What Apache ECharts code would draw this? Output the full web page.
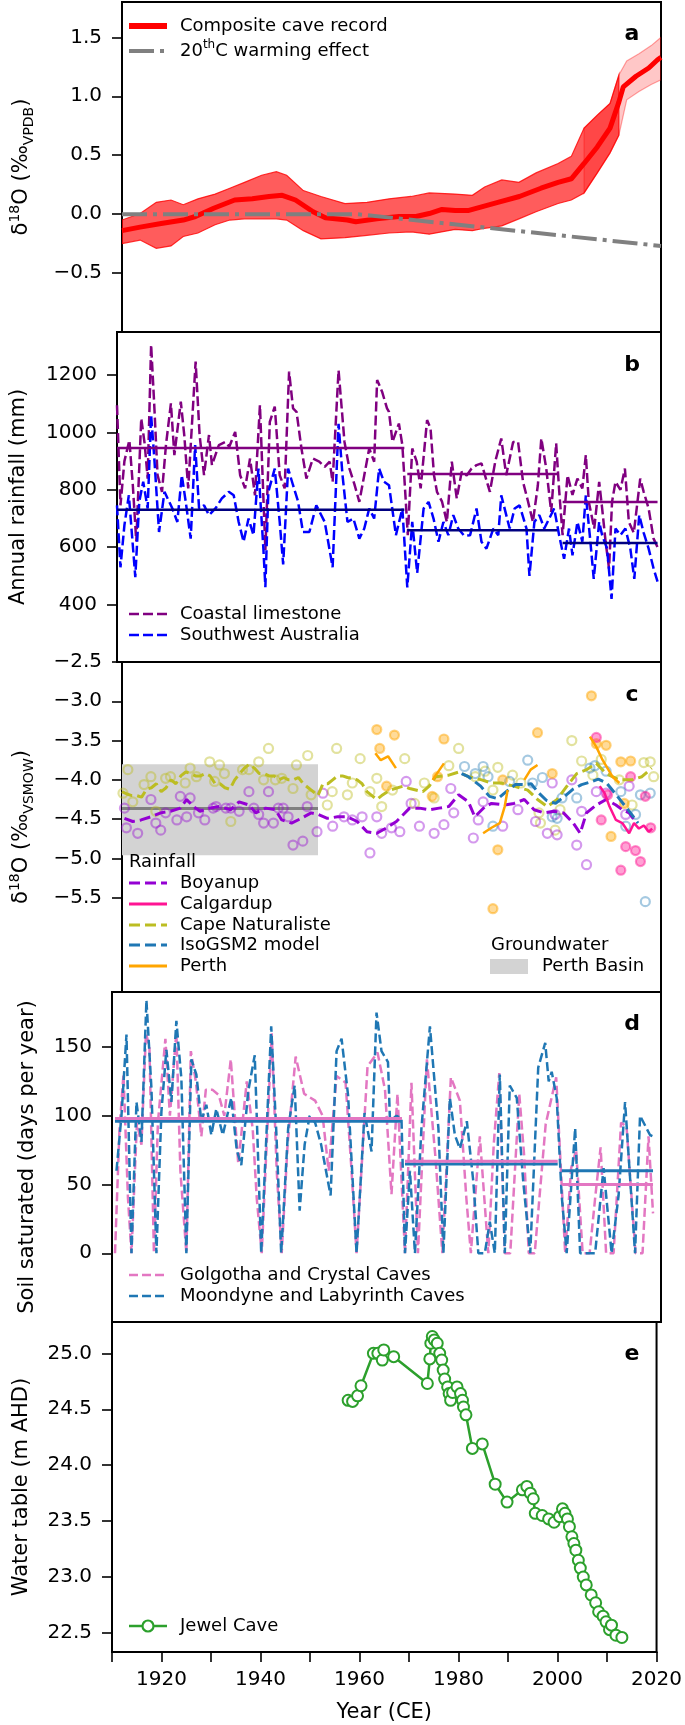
<!DOCTYPE html>
<html><head><meta charset="utf-8">
<script src="https://cdn.jsdelivr.net/npm/echarts@6/dist/echarts.min.js"></script>
<style>html,body{margin:0;padding:0;background:#fff}#c{width:685px;height:1725px}</style>
</head><body><div id="c"></div>
<script>
// ---------- Panel a: composite cave record ----------
const aYears = [1910,1913.7,1918,1922.5,1925,1928.7,1933,1936.6,1940,1942.7,1945.4,1949,1951.5,1956,1957.7,1962,1966.5,1970,1972.7,1975.3,1978,1980.6,1983.2,1986.7,1991.1,1995.5,1999,2001.7,2004.3,2007,2009.6,2011.4,2012.3,2014.9,2017.5,2019.3,2020];
const aMean = [-0.14,-0.11,-0.08,-0.05,-0.02,0.05,0.12,0.13,0.15,0.16,0.12,0.02,-0.03,-0.05,-0.065,-0.04,-0.02,-0.02,0.005,0.04,0.03,0.03,0.06,0.10,0.15,0.22,0.27,0.30,0.43,0.57,0.73,0.95,1.08,1.17,1.24,1.31,1.33];
const bandYears1 = [1910,1913.7,1917,1920,1922.5,1925.5,1929,1932,1935,1938.5,1941.5,1943.6,1947,1950.6,1955.5,1960,1964.5,1969,1972.7,1978,1981.5,1984,1987.5,1991,1994.5,1999,2001.7,2004.3,2007,2009.6,2011.4];
const bandHigh1 = [-0.05,0.005,0.10,0.12,0.08,0.13,0.17,0.22,0.27,0.33,0.36,0.33,0.20,0.15,0.09,0.10,0.13,0.15,0.18,0.17,0.16,0.23,0.29,0.27,0.35,0.43,0.49,0.73,0.84,0.94,1.18];
const bandLow1 = [-0.25,-0.22,-0.29,-0.27,-0.19,-0.16,-0.09,-0.05,-0.04,-0.04,-0.04,-0.05,-0.14,-0.21,-0.20,-0.18,-0.16,-0.15,-0.17,-0.13,-0.14,-0.12,-0.10,-0.04,0.02,0.09,0.12,0.18,0.35,0.52,0.67];
const bandYears2 = [2004.3,2007,2009.6,2011.4,2013,2015.5,2018,2020];
const bandHigh2 = [0.73,0.84,0.94,1.18,1.30,1.36,1.43,1.50];
const bandLow2 = [0.18,0.35,0.52,0.67,0.97,1.04,1.10,1.14];
const warmYears = [1910,1958,2020];
const warmVals = [0,0,-0.27];

// ---------- Panel b: annual rainfall ----------
const coastalYears = [1910.0,1910.7,1911.5,1912.5,1913.2,1913.9,1914.9,1915.6,1916.2,1916.9,1917.5,1918.2,1919.1,1919.9,1920.9,1921.6,1922.9,1923.6,1924.4,1925.9,1926.7,1927.6,1928.6,1929.2,1930.6,1931.9,1932.7,1933.9,1934.9,1935.9,1936.9,1937.9,1938.9,1940.0,1940.9,1941.9,1942.9,1943.9,1944.8,1945.6,1946.3,1947.3,1948.3,1949.6,1950.9,1952.0,1953.0,1953.6,1954.8,1956.0,1957.0,1958.0,1959.0,1960.0,1961.0,1962.0,1962.6,1963.6,1964.6,1965.0,1965.7,1967.0,1967.7,1968.4,1968.8,1969.7,1970.6,1971.4,1972.7,1973.4,1974.1,1974.7,1975.7,1976.7,1977.7,1978.7,1979.7,1980.7,1981.7,1982.7,1983.7,1984.4,1985.4,1986.5,1987.7,1988.7,1990.1,1991.1,1992.1,1993.1,1994.1,1995.1,1995.8,1996.8,1997.8,1998.8,1999.4,2000.1,2001.1,2002.1,2003.1,2004.1,2004.8,2005.4,2006.5,2007.5,2008.1,2008.8,2009.5,2010.1,2010.8,2011.8,2012.7,2013.5,2014.5,2015.8,2016.5,2017.5,2018.5,2019.3];
const coastal = [1095,746,900,973,816,620,1049,960,839,1305,1107,851,793,956,1101,921,1107,991,805,1247,991,851,991,886,956,967,950,1002,851,805,909,781,1095,590,1037,1090,851,805,1212,1084,1072,944,839,909,898,880,898,828,1217,967,874,820,758,851,944,898,1183,1142,1084,1072,967,1031,956,758,642,944,898,805,1043,1014,851,793,760,688,898,770,863,850,874,886,892,851,793,900,979,851,967,967,828,760,688,816,979,874,723,962,800,642,851,782,839,805,921,758,665,828,735,619,525,758,828,800,874,688,650,839,793,735,630,600];
const swaYears = [1910.0,1910.7,1911.5,1912.4,1913.7,1914.5,1915.3,1916.2,1916.9,1917.5,1918.5,1919.6,1921.2,1922.2,1923.1,1923.9,1924.9,1925.8,1926.6,1927.6,1928.6,1929.9,1931.2,1932.6,1933.6,1934.6,1935.6,1936.6,1937.6,1938.6,1939.6,1940.0,1940.6,1941.9,1942.9,1943.6,1944.6,1945.6,1946.6,1947.6,1948.9,1950.3,1952.0,1953.6,1954.8,1955.6,1956.6,1957.8,1959.0,1960.0,1961.0,1962.0,1963.0,1964.0,1965.0,1966.4,1967.7,1968.7,1969.7,1970.7,1972.0,1973.0,1974.0,1975.0,1976.0,1977.0,1978.0,1979.0,1980.2,1981.4,1982.7,1983.7,1984.7,1986.1,1987.1,1987.7,1989.4,1990.4,1991.4,1992.8,1993.4,1994.4,1995.4,1996.4,1997.4,1998.4,1999.4,2000.4,2001.4,2002.1,2003.1,2004.1,2004.8,2005.6,2006.4,2007.5,2008.1,2009.1,2010.0,2010.8,2011.8,2012.8,2013.8,2014.6,2015.6,2016.5,2017.5,2018.5,2019.3];
const swa = [746,530,677,781,496,758,828,735,1060,921,653,793,735,688,851,758,630,956,735,746,712,735,770,793,781,688,619,700,642,874,595,461,793,874,688,540,874,816,760,653,653,746,688,530,1030,851,688,700,630,665,735,700,874,828,816,642,735,460,688,510,735,758,700,619,688,642,712,665,640,642,735,619,595,665,642,781,665,735,746,665,500,688,712,665,700,735,642,560,665,572,688,619,781,642,490,688,642,595,420,665,642,665,595,490,712,650,595,526,480];
const bMeanStart = [1910,1968.7,2000.1];
const bMeanEnd = [1968.1,1999,2019.3];
const coastalMean = [946,855,758];
const swaMean = [731,659,615];

// ---------- Panel c: rainfall d18O ----------
const boyLineYears = [1910.5,1912.2,1913.9,1915.9,1917.9,1919.9,1921.9,1923.2,1924.6,1925.9,1927.9,1929.9,1932.2,1933.9,1935.9,1937.3,1939.3,1941.3,1942.6,1944.6,1946.6,1948.6,1950,1951.9,1954,1956,1958,1960,1962,1964,1966,1968.7,1970.7,1972.7,1974.7,1976.7,1978.7,1980.7,1982,1984.1,1985.4,1988.1,1990,1992.1,1994.1,1996.1,1998.1,2000.1,2002.1,2003.5,2004.8,2006.8,2008.8,2010.8,2012.1,2013.5,2015];
const boyLine = [-4.49,-4.53,-4.51,-4.47,-4.42,-4.40,-4.36,-4.25,-4.34,-4.40,-4.36,-4.34,-4.38,-4.28,-4.32,-4.42,-4.36,-4.38,-4.51,-4.55,-4.49,-4.42,-4.44,-4.49,-4.47,-4.47,-4.53,-4.66,-4.68,-4.61,-4.53,-4.36,-4.36,-4.38,-4.36,-4.34,-4.19,-4.28,-4.47,-4.34,-4.30,-4.32,-4.30,-4.25,-4.38,-4.42,-4.40,-4.42,-4.55,-4.68,-4.42,-4.32,-4.25,-4.32,-4.38,-4.42,-4.55];
const capeLineYears = [1910,1911,1912,1913,1914,1915,1916,1917,1918,1919,1920,1921,1922,1923,1924,1925,1926,1927,1928,1929,1930,1931,1932,1933,1934,1935,1936,1937,1938,1939,1940,1941,1942,1943,1944,1945,1946,1947,1948,1949,1950,1951,1952,1953,1954,1955,1956,1957,1958,1959,1960,1961,1962,1963,1964.7,1967.4,1968.7,1971.4,1972.7,1974,1976.7,1978.7,1980.7,1983.4,1985.4,1987.4,1990,1992.8,1994.8,1996.8,1998.8,2000.8,2002.8,2004.8,2006.8,2008.8,2011.5,2014.1,2016.1,2018.1];
const capeLine = [-4.15,-4.18,-4.2,-4.2,-4.22,-4.12,-4.1,-4.05,-4.15,-4.1,-4.0,-4.05,-3.95,-3.9,-3.92,-3.95,-3.95,-3.92,-3.95,-4.05,-4.05,-4.1,-4.12,-4.0,-3.92,-3.85,-3.8,-3.85,-3.92,-3.92,-3.95,-3.95,-4.0,-3.97,-4.0,-4.0,-3.97,-4.05,-4.1,-4.15,-4.2,-4.05,-4.05,-4.0,-3.95,-3.95,-3.97,-3.98,-4.0,-4.05,-4.15,-4.2,-4.25,-4.2,-4.13,-4.08,-4.11,-4.15,-4.08,-3.96,-3.94,-3.9,-3.96,-4.0,-4.04,-4.04,-4.08,-4.13,-4.25,-4.34,-4.25,-4.08,-3.92,-3.87,-3.79,-3.92,-4.0,-4.0,-3.96,-3.85];
const isoLineYears = [1979.3,1980.7,1983.2,1985,1986.7,1988.6,1990.3,1992,1993.5,1994.8,1996.6,1998.5,2000.3,2002,2003.8,2005.5,2007.2,2008.9,2010.6,2012.5,2014,2015.3];
const isoLine = [-3.92,-3.96,-4.08,-4.21,-4.24,-4.14,-4.06,-4.06,-4.05,-4.15,-4.26,-4.30,-4.21,-4.12,-4.06,-4.03,-3.99,-4.04,-4.17,-4.32,-4.44,-4.55];
const perthLineYears = [1961.7,1962.8,1964.3,1965.9,1969,1973.4,1975.7,1980,1983.7,1985.4,1987.1,1988.1,1988.7,1990,1992.1,1993.4,1994.8,2000,2005.5,2006.8,2008.1,2010.1,2011.5];
const perthLine = [-3.66,-3.75,-3.70,-3.85,null,-4.0,-3.79,null,-4.68,-4.61,-4.55,-4.34,-4.13,null,-4.0,-3.87,-3.81,null,-3.45,-3.58,-3.75,-3.96,-4.04];
const calLineYears = [2007.5,2008.5,2009.5,2010.8,2012.1,2013.5,2014.5,2015.5,2016.5,2017.5,2018.2];
const calLine = [-4.08,-4.17,-4.34,-4.51,-4.55,-4.68,-4.55,-4.62,-4.58,-4.66,-4.62];
const boyPtYears = [1910.5,1910.9,1913.2,1915.9,1916.9,1917.9,1918.9,1921.2,1921.9,1923.2,1923.9,1925.6,1926.9,1928.6,1929.2,1931.2,1932.2,1933.9,1935.9,1936.9,1937.9,1938.9,1939.9,1940.9,1941.9,1942.9,1943.9,1944.9,1946.9,1947.8,1949.8,1951.0,1953.0,1955.3,1957.0,1959.0,1960.6,1962.0,1963.0,1965.0,1966.7,1968.0,1969.0,1970.7,1973.7,1975.7,1977.1,1977.7,1981.7,1982.7,1983.7,1987.7,1990.8,1994.4,1996.8,1997.8,1998.4,1998.8,2001.8,2002.8,2003.8,2004.8,2006.8,2008.8,2012.8,2013.5];
const boyPts = [-4.36,-4.61,-4.68,-4.25,-4.55,-4.64,-4.42,-4.51,-4.21,-4.47,-4.23,-4.42,-4.51,-4.36,-4.34,-4.36,-4.36,-4.40,-4.15,-4.36,-4.44,-4.55,-4.15,-4.55,-4.36,-4.36,-4.47,-4.83,-4.78,-4.34,-4.66,-4.17,-4.59,-4.47,-4.51,-4.47,-4.93,-4.47,-4.68,-4.61,-4.66,-4.02,-4.30,-4.59,-4.68,-4.57,-4.11,-4.42,-4.74,-4.51,-4.28,-4.59,-4.38,-4.53,-4.68,-4.04,-4.44,-4.70,-4.0,-4.83,-4.40,-5.08,-4.15,-4.17,-4.44,-4.08];
const capePtYears = [1910.2,1911.2,1912.2,1914.5,1915.9,1916.9,1918.9,1919.9,1922.9,1923.9,1925.2,1927.9,1928.9,1929.9,1930.9,1932.2,1934.6,1935.9,1937.9,1938.9,1939.9,1941.3,1942.6,1944.9,1945.6,1947.9,1948.6,1951.9,1952.9,1953.8,1956.0,1957.0,1958.6,1960.6,1962.0,1963.0,1965.2,1967.7,1969.7,1971.7,1973.7,1976.7,1978.7,1982.1,1984.1,1985.7,1986.7,1989.7,1991.4,1995.1,1995.4,1998.4,1999.4,2001.8,2003.8,2006.1,2007.8,2011.5,2014.1,2016.5,2017.8,2018.5];
const capePts = [-4.17,-3.87,-4.28,-4.06,-3.96,-4.40,-3.98,-3.96,-4.04,-3.85,-3.96,-3.77,-4.02,-3.81,-3.92,-4.53,-3.87,-3.87,-3.77,-4.0,-3.60,-4.0,-3.98,-4.11,-3.81,-3.69,-4.19,-4.32,-4.15,-3.60,-4.19,-4.04,-3.73,-4.15,-3.98,-4.34,-4.13,-3.73,-4.30,-4.04,-4.23,-3.82,-3.60,-3.96,-3.89,-4.13,-3.84,-3.94,-4.04,-4.42,-4.55,-4.64,-4.38,-3.50,-3.76,-3.94,-3.74,-4.0,-4.32,-3.78,-3.77,-3.96];
const isoPtYears = [1979.9,1982.1,1983.7,1984.7,1985.7,1989.1,1992.8,1993.8,1995.8,1997.8,1998.8,1999.8,2002.8,2005.5,2006.5,2008.8,2011.8,2012.8,2014.8,2015.8,2016.8,2017.8];
const isoPts = [-3.83,-3.92,-3.83,-3.96,-4.59,-4.02,-3.75,-4.04,-3.97,-4.47,-4.49,-4.23,-4.23,-3.85,-3.82,-3.89,-4.15,-4.59,-4.44,-4.19,-5.55,-4.17];
const perthPtYears = [1962.0,1962.6,1964.0,1965.6,1973.3,1974.4,1975.7,1985.7,1986.7,1987.7,1994.8,1997.8,2005.8,2006.8,2008.8,2009.8,2011.8,2012.5,2013.8];
const perthPts = [-3.36,-3.60,-4.08,-3.43,-4.21,-3.96,-3.48,-5.64,-4.89,-4.0,-3.40,-3.92,-2.93,-3.54,-3.56,-4.72,-3.77,-4.30,-3.76];
const calPtYears = [2006.8,2007.8,2009.1,2011.8,2012.8,2013.8,2014.8,2015.8,2016.8,2017.9];
const calPts = [-3.46,-4.51,-4.19,-5.15,-4.85,-3.96,-4.90,-5.04,-4.21,-4.61];
const basinYears = [1910,1950];
const basinRange = [-4.96,-3.80];
const basinMean = [-4.365,-4.365];

// ---------- Panel d: soil saturation ----------
const golgYears = [1910.6,1911.5,1912.3,1913.2,1913.9,1915.0,1915.9,1916.8,1917.5,1918.4,1919.2,1920.7,1921.6,1922.9,1923.7,1924.9,1925.8,1926.8,1927.9,1928.8,1930.1,1931.4,1932.5,1933.8,1935.3,1937.0,1938.2,1939.0,1940.0,1942.0,1943.0,1944.0,1945.2,1946.8,1948.5,1950.7,1952.2,1953.4,1955.0,1956.8,1958.0,1959.0,1961.2,1963.2,1964.7,1966.0,1967.2,1968.7,1970.0,1971.3,1973.1,1974.8,1976.2,1977.9,1979.7,1981.0,1981.9,1983.7,1985.4,1986.5,1987.6,1988.7,1989.8,1991.6,1992.6,1993.5,1994.7,1996.9,1999.0,2000.8,2002.0,2003.0,2004.3,2005.7,2006.8,2007.9,2009.0,2010.5,2012.0,2013.1,2014.9,2016.3,2017.5,2018.4];
const golgotha = [0,90,130,40,0,95,79,160,150,0,95,156,100,161,60,0,147,125,85,119,119,115,100,141,65,125,90,40,0,160,60,0,80,143,116,111,100,60,129,124,60,0,136,146,119,43,116,0,124,0,141,70,0,128,111,40,0,85,0,80,131,0,0,116,70,0,0,94,128,0,62,75,0,0,40,77,0,0,95,92,0,0,85,29];
const moonYears = [1910.9,1911.9,1912.9,1913.9,1914.9,1915.5,1915.9,1916.9,1917.9,1918.9,1919.9,1920.9,1921.9,1922.9,1923.9,1924.9,1925.9,1926.9,1927.9,1928.9,1929.9,1930.9,1932.2,1933.9,1935.0,1935.9,1937.3,1938.6,1939.9,1941.9,1942.9,1943.9,1945.3,1946.6,1947.6,1948.6,1949.6,1950.7,1951.9,1953.8,1955.0,1956.0,1957.3,1959.0,1960.6,1962.0,1963.0,1964.0,1965.3,1965.7,1967.0,1968.0,1968.7,1969.7,1970.7,1972.0,1973.7,1975.4,1976.4,1977.7,1978.7,1979.7,1981.1,1982.4,1983.4,1984.7,1985.7,1986.7,1987.7,1988.7,1989.7,1991.1,1992.4,1993.8,1995.4,1996.8,1997.5,1998.1,1999.1,2000.1,2001.1,2002.8,2003.8,2005.5,2006.8,2008.5,2010.1,2011.5,2012.8,2014.8,2015.8,2017.8,2018.4];
const moondyne = [60,100,159,0,110,93,81,184,120,0,103,148,110,169,127,0,141,130,96,108,86,105,86,113,75,64,118,144,0,165,90,0,91,122,31,79,100,95,79,42,147,156,115,0,102,74,175,147,139,96,100,98,0,60,0,91,165,91,0,113,86,76,96,52,0,0,23,0,130,0,122,113,52,0,135,153,125,132,113,42,0,91,0,0,0,62,0,42,110,0,100,86,85];
const dMeanStart = [1910.6,1968.7,2000.1];
const dMeanEnd = [1968.1,1999.3,2018.4];
const golgMean = [98,67,50];
const moonMean = [96,65,60];

// ---------- Panel e: Jewel Cave water table ----------
const jcYears = [1957.7,1958.6,1959.6,1960.3,1962.8,1963.7,1964.6,1964.9,1966.9,1973.7,1974.2,1974.4,1974.7,1975.1,1975.7,1976.2,1976.6,1976.9,1977.2,1977.8,1978.1,1978.4,1978.8,1979.7,1980.4,1980.8,1981.0,1981.5,1982.8,1984.8,1987.4,1989.8,1992.9,1993.8,1994.5,1995.1,1995.5,1996.9,1998.2,1999.3,2000.4,2001.0,2001.5,2002.0,2002.4,2002.9,2003.3,2003.7,2004.2,2004.6,2005.2,2005.8,2006.8,2007.7,2008.3,2009.2,2009.8,2010.5,2010.9,2011.8,2013.0];
const jcVals = [24.58,24.57,24.62,24.71,25.0,25.0,24.94,25.03,24.97,24.73,24.95,25.09,25.15,25.12,25.09,25.0,24.94,24.85,24.77,24.70,24.64,24.58,24.65,24.70,24.64,24.58,24.52,24.45,24.15,24.19,23.83,23.67,23.78,23.81,23.75,23.70,23.57,23.55,23.52,23.49,23.54,23.61,23.57,23.52,23.45,23.36,23.30,23.24,23.15,23.08,23.0,22.93,22.84,22.77,22.69,22.65,22.60,22.53,22.57,22.48,22.46];

// ---------- Axis ticks ----------
const xTicks = [1910,1920,1930,1940,1950,1960,1970,1980,1990,2000,2010,2020];
const xLabels = [1920,1940,1960,1980,2000,2020];
const aTicks = [-0.5,0,0.5,1,1.5];
const bTicks = [400,600,800,1000,1200];
const cTicks = [-5.5,-5,-4.5,-4,-3.5,-3,-2.5];
const dTicks = [0,50,100,150];
const eTicks = [22.5,23,23.5,24,24.5,25];

// ---------- Build chart ----------
const FONT = 'DejaVu Sans';
const minus = s => s.replace('-', '\u2212');
const f1 = v => minus(Number(v).toFixed(1));
const f0 = v => minus(String(Math.round(v)));
const zip = (xs, ys) => xs.map((x, i) => [x, ys[i] == null ? '-' : ys[i]]);
const L = 112, R = 24, H = 330;
const TOPS = [2, 332, 662, 992, 1322];

const RICH = {
  n: {fontSize: 21, fontFamily: FONT, color: '#000', lineHeight: 28},
  sup: {fontSize: 14, fontFamily: FONT, color: '#000', verticalAlign: 'top', lineHeight: 28},
  sub: {fontSize: 14, fontFamily: FONT, color: '#000', verticalAlign: 'bottom', lineHeight: 28}
};

const grid = TOPS.map(t => ({left: L, right: R, top: t, height: H, show: true, borderColor: '#000', borderWidth: 2, backgroundColor: 'transparent'}));

const xAxis = TOPS.map((t, i) => ({
  type: 'value', gridIndex: i, min: 1910, max: 2020,
  splitLine: {show: false},
  axisLine: {show: true, onZero: false, lineStyle: {color: '#000', width: 2}},
  axisTick: {show: i === 4, length: 10, customValues: xTicks, lineStyle: {color: '#000', width: 1.6}},
  axisLabel: {show: i === 4, customValues: xLabels, formatter: v => String(v), fontSize: 20, fontFamily: FONT, color: '#000', margin: 18},
  name: i === 4 ? 'Year (CE)' : '', nameLocation: 'middle', nameGap: 50,
  nameTextStyle: {fontSize: 21, fontFamily: FONT, color: '#000'}
}));

function yAx(i, min, max, vals, fmt, name, gap) {
  return {
    type: 'value', gridIndex: i, min, max,
    splitLine: {show: false},
    axisLine: {show: true, onZero: false, lineStyle: {color: '#000', width: 2}},
    axisTick: {show: true, length: 10, customValues: vals, lineStyle: {color: '#000', width: 1.6}},
    axisLabel: {customValues: vals, formatter: fmt, fontSize: 20, fontFamily: FONT, color: '#000', margin: 20},
    name, nameLocation: 'middle', nameRotate: 90, nameGap: gap,
    nameTextStyle: {fontSize: 21, fontFamily: FONT, color: '#000', rich: RICH}
  };
}
const yAxis = [
  yAx(0, -1.0, 1.8, aTicks, f1, '{n|δ}{sup|18}{n|O (‰}{sub|VPDB}{n|)}', 86),
  yAx(1, 200, 1350, bTicks, f0, 'Annual rainfall (mm)', 88),
  yAx(2, -6.7, -2.5, cTicks, f1, '{n|δ}{sup|18}{n|O (‰}{sub|VSMOW}{n|)}', 86),
  yAx(3, -50, 190, dTicks, f0, 'Soil saturated (days per year)', 74),
  yAx(4, 22.33, 25.28, eTicks, f1, 'Water table (m AHD)', 80)
];

function line(i, data, ls, z) {
  return {type: 'line', xAxisIndex: i, yAxisIndex: i, data, symbol: 'none', z, lineStyle: ls, connectNulls: false, silent: true, animation: false, clip: true};
}
function band(i, xs, lo, hi, fill, stroke, z) {
  return {
    type: 'custom', xAxisIndex: i, yAxisIndex: i, silent: true, z, clip: true, animation: false,
    data: [[xs[0], lo[0]]],
    renderItem: (p, api) => {
      const pts = [];
      for (let k = 0; k < xs.length; k++) pts.push(api.coord([xs[k], hi[k]]));
      for (let k = xs.length - 1; k >= 0; k--) pts.push(api.coord([xs[k], lo[k]]));
      return {type: 'polygon', shape: {points: pts}, style: {fill, stroke, lineWidth: 1.2}};
    }
  };
}
function pts(i, data, color, fill, border, z) {
  return {type: 'scatter', xAxisIndex: i, yAxisIndex: i, data, symbol: 'circle', symbolSize: 9, z, silent: true, animation: false,
    itemStyle: {color: fill, borderColor: border, borderWidth: 2.2}};
}

const series = [];
// a
series.push(band(0, bandYears1, bandLow1, bandHigh1, 'rgba(255,0,0,0.64)', 'rgba(255,0,0,0.8)', 1));
series.push(band(0, bandYears2, bandLow2, bandHigh2, 'rgba(255,0,0,0.22)', 'rgba(255,0,0,0.35)', 1));
series.push(line(0, zip(aYears, aMean), {color: '#ff0000', width: 5}, 3));
series.push(line(0, zip(warmYears, warmVals), {color: '#808080', width: 4, type: [25, 6, 4, 6]}, 4));
// b
series.push(line(1, zip(coastalYears, coastal), {color: '#800080', width: 2.5, type: [10, 4]}, 2));
series.push(line(1, zip(swaYears, swa), {color: '#0000ff', width: 2.5, type: [10, 4]}, 3));
bMeanStart.forEach((s, k) => {
  series.push(line(1, [[s, coastalMean[k]], [bMeanEnd[k], coastalMean[k]]], {color: '#800080', width: 2.5}, 4));
  series.push(line(1, [[s, swaMean[k]], [bMeanEnd[k], swaMean[k]]], {color: '#000080', width: 2.5}, 4));
});
// c
series.push({
  type: 'custom', xAxisIndex: 2, yAxisIndex: 2, silent: true, z: 1, clip: true, animation: false,
  data: [[basinYears[0], basinRange[0]]],
  renderItem: (p, api) => {
    const a = api.coord([basinYears[0], basinRange[1]]);
    const b = api.coord([basinYears[1], basinRange[0]]);
    return {type: 'rect', shape: {x: a[0], y: a[1], width: b[0] - a[0], height: b[1] - a[1]}, style: {fill: '#d3d3d3'}};
  }
});
series.push(line(2, zip(basinYears, basinMean), {color: '#808080', width: 3}, 2));
series.push(pts(2, zip(capePtYears, capePts), '#bcbd22', 'rgba(255,255,255,0)', 'rgba(188,189,34,0.55)', 3));
series.push(pts(2, zip(boyPtYears, boyPts), '#9400d3', 'rgba(255,255,255,0)', 'rgba(148,0,211,0.5)', 3));
series.push(pts(2, zip(isoPtYears, isoPts), '#1f77b4', 'rgba(255,255,255,0)', 'rgba(31,119,180,0.5)', 3));
series.push(pts(2, zip(perthPtYears, perthPts), '#ffa500', 'rgba(255,165,0,0.5)', 'rgba(255,165,0,0.6)', 3));
series.push(pts(2, zip(calPtYears, calPts), '#ff1493', 'rgba(255,20,147,0.5)', 'rgba(255,20,147,0.6)', 3));
series.push(line(2, zip(capeLineYears, capeLine), {color: '#bcbd22', width: 3, type: [11, 5]}, 4));
series.push(line(2, zip(boyLineYears, boyLine), {color: '#9400d3', width: 3, type: [11, 5]}, 4));
series.push(line(2, zip(isoLineYears, isoLine), {color: '#1f77b4', width: 3, type: [11, 5]}, 5));
series.push(line(2, zip(perthLineYears, perthLine), {color: '#ffa500', width: 2.5}, 5));
series.push(line(2, zip(calLineYears, calLine), {color: '#ff1493', width: 2.5}, 5));
// d
series.push(line(3, zip(golgYears, golgotha), {color: '#e377c2', width: 2.5, type: [9, 4]}, 2));
series.push(line(3, zip(moonYears, moondyne), {color: '#1f77b4', width: 2.5, type: [9, 4]}, 3));
dMeanStart.forEach((s, k) => {
  series.push(line(3, [[s, moonMean[k]], [dMeanEnd[k], moonMean[k]]], {color: '#1f77b4', width: 3}, 4));
  series.push(line(3, [[s, golgMean[k]], [dMeanEnd[k], golgMean[k]]], {color: '#e377c2', width: 3}, 4));
});
// e
series.push({type: 'line', xAxisIndex: 4, yAxisIndex: 4, data: zip(jcYears, jcVals), symbol: 'emptyCircle', symbolSize: 11,
  showSymbol: true, showAllSymbol: true, silent: true, animation: false, z: 3,
  lineStyle: {color: '#2ca02c', width: 2.5}, itemStyle: {color: '#2ca02c', borderWidth: 2.2}});

// ---------- Legends and panel letters (graphic) ----------
const G = [];
function lg(y, color, width, dash) {
  G.push({type: 'line', shape: {x1: 129, y1: y, x2: 167, y2: y}, style: {stroke: color, lineWidth: width, lineDash: dash || null}, z: 100});
}
function tx(x, y, text, size, weight, rich) {
  G.push({type: 'text', x, y, z: 100, style: {text, fontSize: size || 18, fontFamily: FONT, fontWeight: weight || 'normal', fill: '#000', verticalAlign: 'middle', align: 'left', rich}});
}
const LRICH = {n: {fontSize: 18, fontFamily: FONT, color: '#000', lineHeight: 24}, s: {fontSize: 12, fontFamily: FONT, color: '#000', verticalAlign: 'top', lineHeight: 24}};
// a
lg(26, '#ff0000', 6); tx(180, 26, 'Composite cave record');
lg(51, '#808080', 4, [25, 6, 4, 6]); tx(180, 51, '{n|20}{s|th}{n|C warming effect}', 18, 'normal', LRICH);
// b
lg(614, '#800080', 2.5, [10, 4]); tx(180, 614, 'Coastal limestone');
lg(635, '#0000ff', 2.5, [10, 4]); tx(180, 635, 'Southwest Australia');
// c
tx(129, 862, 'Rainfall');
lg(883, '#9400d3', 3, [11, 5]); tx(180, 883, 'Boyanup');
lg(904, '#ff1493', 3); tx(180, 904, 'Calgardup');
lg(925, '#bcbd22', 3, [11, 5]); tx(180, 925, 'Cape Naturaliste');
lg(945, '#1f77b4', 3, [11, 5]); tx(180, 945, 'IsoGSM2 model');
lg(966, '#ffa500', 3); tx(180, 966, 'Perth');
tx(491, 945, 'Groundwater');
G.push({type: 'rect', shape: {x: 490, y: 959, width: 38, height: 15}, style: {fill: '#d3d3d3'}, z: 100});
tx(542, 966, 'Perth Basin');
// d
lg(1275, '#e377c2', 2.5, [9, 4]); tx(180, 1275, 'Golgotha and Crystal Caves');
lg(1296, '#1f77b4', 2.5, [9, 4]); tx(180, 1296, 'Moondyne and Labyrinth Caves');
// e
lg(1626, '#2ca02c', 2.5);
G.push({type: 'circle', shape: {cx: 148, cy: 1626, r: 5.5}, style: {fill: '#fff', stroke: '#2ca02c', lineWidth: 2.2}, z: 101});
tx(180, 1626, 'Jewel Cave');
// panel letters
[['a', 34], ['b', 365], ['c', 695], ['d', 1024], ['e', 1354]].forEach(([t, y]) => {
  G.push({type: 'text', x: 632, y, z: 100, style: {text: t, fontSize: 22, fontFamily: FONT, fontWeight: 'bold', fill: '#000', verticalAlign: 'middle', align: 'center'}});
});

const chart = echarts.init(document.getElementById('c'), null, {renderer: 'canvas'});
chart.setOption({animation: false, backgroundColor: '#fff', grid, xAxis, yAxis, series, graphic: G});
</script>
</body></html>
